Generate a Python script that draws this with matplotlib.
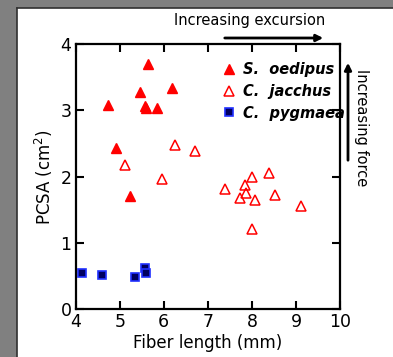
import matplotlib.pyplot as plt
from matplotlib.patches import Rectangle

# S. oedipus (filled triangles)
so_x = [4.74, 5.63, 5.46, 5.57, 5.59, 5.84, 6.19, 4.92, 5.24]
so_y = [3.08, 3.70, 3.27, 3.06, 3.04, 3.04, 3.34, 2.43, 1.71]

# C. jacchus (open triangles)
cj_x = [5.13, 6.25, 6.71, 5.97, 7.38, 7.85, 8.01, 8.39, 7.74, 7.87, 8.08, 8.52, 9.12, 8.01]
cj_y = [2.17, 2.47, 2.39, 1.97, 1.82, 1.87, 1.99, 2.05, 1.68, 1.76, 1.65, 1.72, 1.56, 1.21]

# C. pygmaea (squares)
cp_x = [4.15, 4.59, 5.35, 5.57, 5.60]
cp_y = [0.55, 0.52, 0.48, 0.62, 0.54]

W, H = 393, 357
fig = plt.figure(figsize=(W / 100, H / 100), dpi=100)
fig.patch.set_facecolor('#808080')
# white page with a dark edge on top and left
fig.add_artist(Rectangle((17 / W, 0), 1, 1 - 8 / H, transform=fig.transFigure,
                         facecolor='white', edgecolor='none', zorder=0))
fig.add_artist(plt.Line2D([17 / W, 17 / W], [0, 1 - 8 / H], transform=fig.transFigure,
                          color='#303030', lw=1.2))
fig.add_artist(plt.Line2D([17 / W, 1], [1 - 8 / H, 1 - 8 / H], transform=fig.transFigure,
                          color='#303030', lw=1.2))

ax = fig.add_axes([75.7 / W, 1 - 309.3 / H, (340 - 75.7) / W, (309.3 - 44) / H])
ax.set_facecolor('white')

ax.plot(so_x, so_y, '^', color='red', ms=6.5, mec='red', ls='none', label='S.  oedipus')
ax.plot(cj_x, cj_y, '^', mfc='none', mec='red', mew=1.1, ms=6.5, ls='none', label='C.  jacchus')
ax.plot(cp_x, cp_y, 's', mfc='#000060', mec='#2030ff', mew=1.2, ms=5.5, ls='none',
        label='C.  pygmaea')

ax.set_xlim(4, 10)
ax.set_ylim(0, 4)
ax.set_xticks([4, 5, 6, 7, 8, 9, 10])
ax.set_yticks([0, 1, 2, 3, 4])
ax.tick_params(direction='in', length=6, width=1.5, labelsize=12.5, pad=3,
               top=True, right=True)
for s in ax.spines.values():
    s.set_linewidth(1.6)

ax.set_xlabel('Fiber length (mm)', fontsize=12, labelpad=2)
ax.set_ylabel('PCSA (cm$^2$)', fontsize=12, labelpad=4)

leg = ax.legend(loc='upper left', bbox_to_anchor=(0.51, 0.98), frameon=False,
                handlelength=0.8, handletextpad=0.5, labelspacing=0.45,
                prop={'size': 10.5, 'weight': 'bold', 'style': 'italic'})

fig.text(250 / W, 1 - 21 / H, 'Increasing excursion', ha='center', va='center', fontsize=10.5)
fig.text(362 / W, 1 - 128 / H, 'Increasing force', ha='center', va='center',
         fontsize=10.5, rotation=-90)
ax.annotate('', xy=(326 / W, 1 - 38 / H), xytext=(222 / W, 1 - 38 / H),
            xycoords='figure fraction', textcoords='figure fraction',
            arrowprops=dict(arrowstyle='-|>', color='black', lw=2, mutation_scale=10),
            annotation_clip=False)
ax.annotate('', xy=(348 / W, 1 - 60 / H), xytext=(348 / W, 1 - 163 / H),
            xycoords='figure fraction', textcoords='figure fraction',
            arrowprops=dict(arrowstyle='-|>', color='black', lw=2, mutation_scale=10),
            annotation_clip=False)

fig.savefig('out.png', dpi=100, facecolor=fig.get_facecolor())
